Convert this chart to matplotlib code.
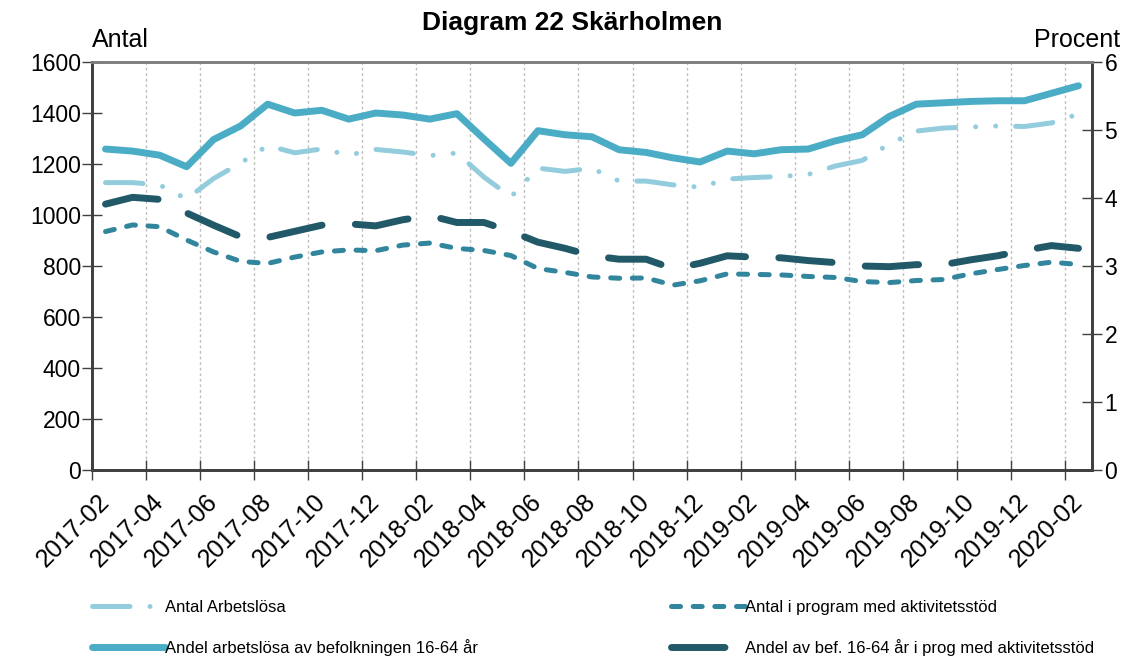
import matplotlib
matplotlib.use("Agg")
import matplotlib.pyplot as plt
from matplotlib.ticker import FixedLocator, NullFormatter, FixedFormatter
import numpy as np
import pandas as pd

plt.rcParams['font.family'] = ['Liberation Sans', 'DejaVu Sans']
plt.rcParams['lines.scale_dashes'] = False

months = list(pd.period_range('2017-02', periods=37, freq='M').strftime('%Y-%m'))

antal_arbetslosa = [1127, 1127, 1118, 1063, 1143, 1204, 1272, 1244, 1259, 1235,
                    1257, 1247, 1233, 1243, 1149, 1071, 1184, 1171, 1183, 1133,
                    1133, 1118, 1109, 1141, 1147, 1151, 1159, 1192, 1214, 1278,
                    1329, 1341, 1345, 1349, 1347, 1361, 1396]
antal_program = [935, 961, 954, 902, 855, 818, 810, 835, 855, 863,
                 860, 882, 890, 869, 861, 841, 790, 775, 757, 752,
                 753, 725, 742, 769, 767, 765, 759, 755, 739, 735,
                 743, 747, 769, 786, 802, 815, 806]
andel_arbetslosa = [4.72, 4.69, 4.63, 4.46, 4.86, 5.06, 5.38, 5.25, 5.29, 5.16,
                    5.25, 5.22, 5.16, 5.24, 4.87, 4.51, 4.99, 4.93, 4.90, 4.71,
                    4.67, 4.59, 4.53, 4.69, 4.65, 4.71, 4.72, 4.84, 4.93, 5.20,
                    5.38, 5.40, 5.42, 5.43, 5.43, 5.54, 5.65]
andel_program = [3.91, 4.01, 3.98, 3.78, 3.60, 3.43, 3.42, 3.51, 3.60, 3.62,
                 3.59, 3.68, 3.74, 3.64, 3.64, 3.51, 3.35, 3.26, 3.15, 3.10,
                 3.10, 2.96, 3.04, 3.15, 3.13, 3.12, 3.08, 3.05, 3.00, 2.99,
                 3.02, 3.02, 3.09, 3.15, 3.23, 3.30, 3.26]

labels = ["Antal Arbetslösa", "Andel arbetslösa av befolkningen 16-64 år",
          "Antal i program med aktivitetsstöd", "Andel av bef. 16-64 år i prog med aktivitetsstöd"]

c_light = '#93CDDD'
c_solid = '#4BACC6'
c_prog = '#31859C'
c_dark = '#215968'

W, H = 1135, 656
fig = plt.figure(figsize=(W / 100, H / 100), dpi=100)
L, R, T, B = 92, 1092, 62, 470
ax = fig.add_axes([L / W, 1 - B / H, (R - L) / W, (B - T) / H])
ax2 = ax.twinx()

x = np.arange(len(months))

l1, = ax.plot(x, antal_arbetslosa, color=c_light, lw=3.6,
              dashes=(27, 14.4, 0.01, 14.4, 0.01, 14.4), dash_capstyle='round',
              solid_capstyle='round', label=labels[0])
l3, = ax.plot(x, antal_program, color=c_prog, lw=3.6,
              dashes=(6.5, 9.1), dash_capstyle='round', label=labels[2])
l2, = ax2.plot(x, andel_arbetslosa, color=c_solid, lw=5.0,
               solid_capstyle='round', solid_joinstyle='round', label=labels[1])
l4, = ax2.plot(x, andel_program, color=c_dark, lw=5.0,
               dashes=(38.5, 24), dash_capstyle='round', label=labels[3])

ax.set_xlim(-0.5, len(months) - 0.5)
ax.set_ylim(0, 1600)
ax2.set_ylim(0, 6)
ax.set_yticks(np.arange(0, 1601, 200))
ax2.set_yticks(np.arange(0, 7, 1))

# x ticks: major at every second category boundary, labels at category centres
bounds = np.arange(-0.5, len(months) - 0.5, 2)
ax.xaxis.set_major_locator(FixedLocator(bounds))
ax.xaxis.set_major_formatter(NullFormatter())
centres = x[::2]
ax.xaxis.set_minor_locator(FixedLocator(centres))
ax.xaxis.set_minor_formatter(FixedFormatter([months[i] for i in centres]))
ax.tick_params(axis='x', which='major', direction='inout', length=14, width=1, color='#404040')
ax.tick_params(axis='x', which='minor', length=0, pad=20, labelsize=18)
for lab in ax.get_xticklabels(minor=True):
    lab.set_rotation(45)
    lab.set_ha('right')
    lab.set_va('center')
    lab.set_rotation_mode('anchor')

ax.grid(axis='x', which='major', color='#BFBFBF', linestyle=(0, (2, 2)), linewidth=1)
ax.set_axisbelow(True)

ax.tick_params(axis='y', direction='inout', length=14, width=1, color='#404040', labelsize=16.5, pad=1)
ax2.tick_params(axis='y', direction='inout', length=14, width=1, color='#404040', labelsize=16.5, pad=2)

for a in (ax, ax2):
    a.spines['top'].set_color('#808080')
    a.spines['top'].set_linewidth(2)
    a.spines['left'].set_color('#404040')
    a.spines['left'].set_linewidth(2)
    a.spines['right'].set_color('#404040')
    a.spines['right'].set_linewidth(2)
    a.spines['bottom'].set_color('#404040')
    a.spines['bottom'].set_linewidth(2)

fig.text(572 / W, 1 - 23 / H, "Diagram 22 Skärholmen", ha='center', va='center',
         fontsize=19, fontweight='bold')
fig.text(92 / W, 1 - 40 / H, "Antal", ha='left', va='center', fontsize=18)
fig.text(1120 / W, 1 - 40 / H, "Procent", ha='right', va='center', fontsize=18)

leg = fig.legend(handles=[l1, l2, l3, l4], ncol=2, loc='lower left',
                 bbox_to_anchor=(80 / W, -0.018), frameon=False, fontsize=12,
                 handlelength=4.4, handletextpad=0.0, columnspacing=11.6,
                 labelspacing=1.45, borderaxespad=0.3)

fig.savefig('out.png', dpi=100)
